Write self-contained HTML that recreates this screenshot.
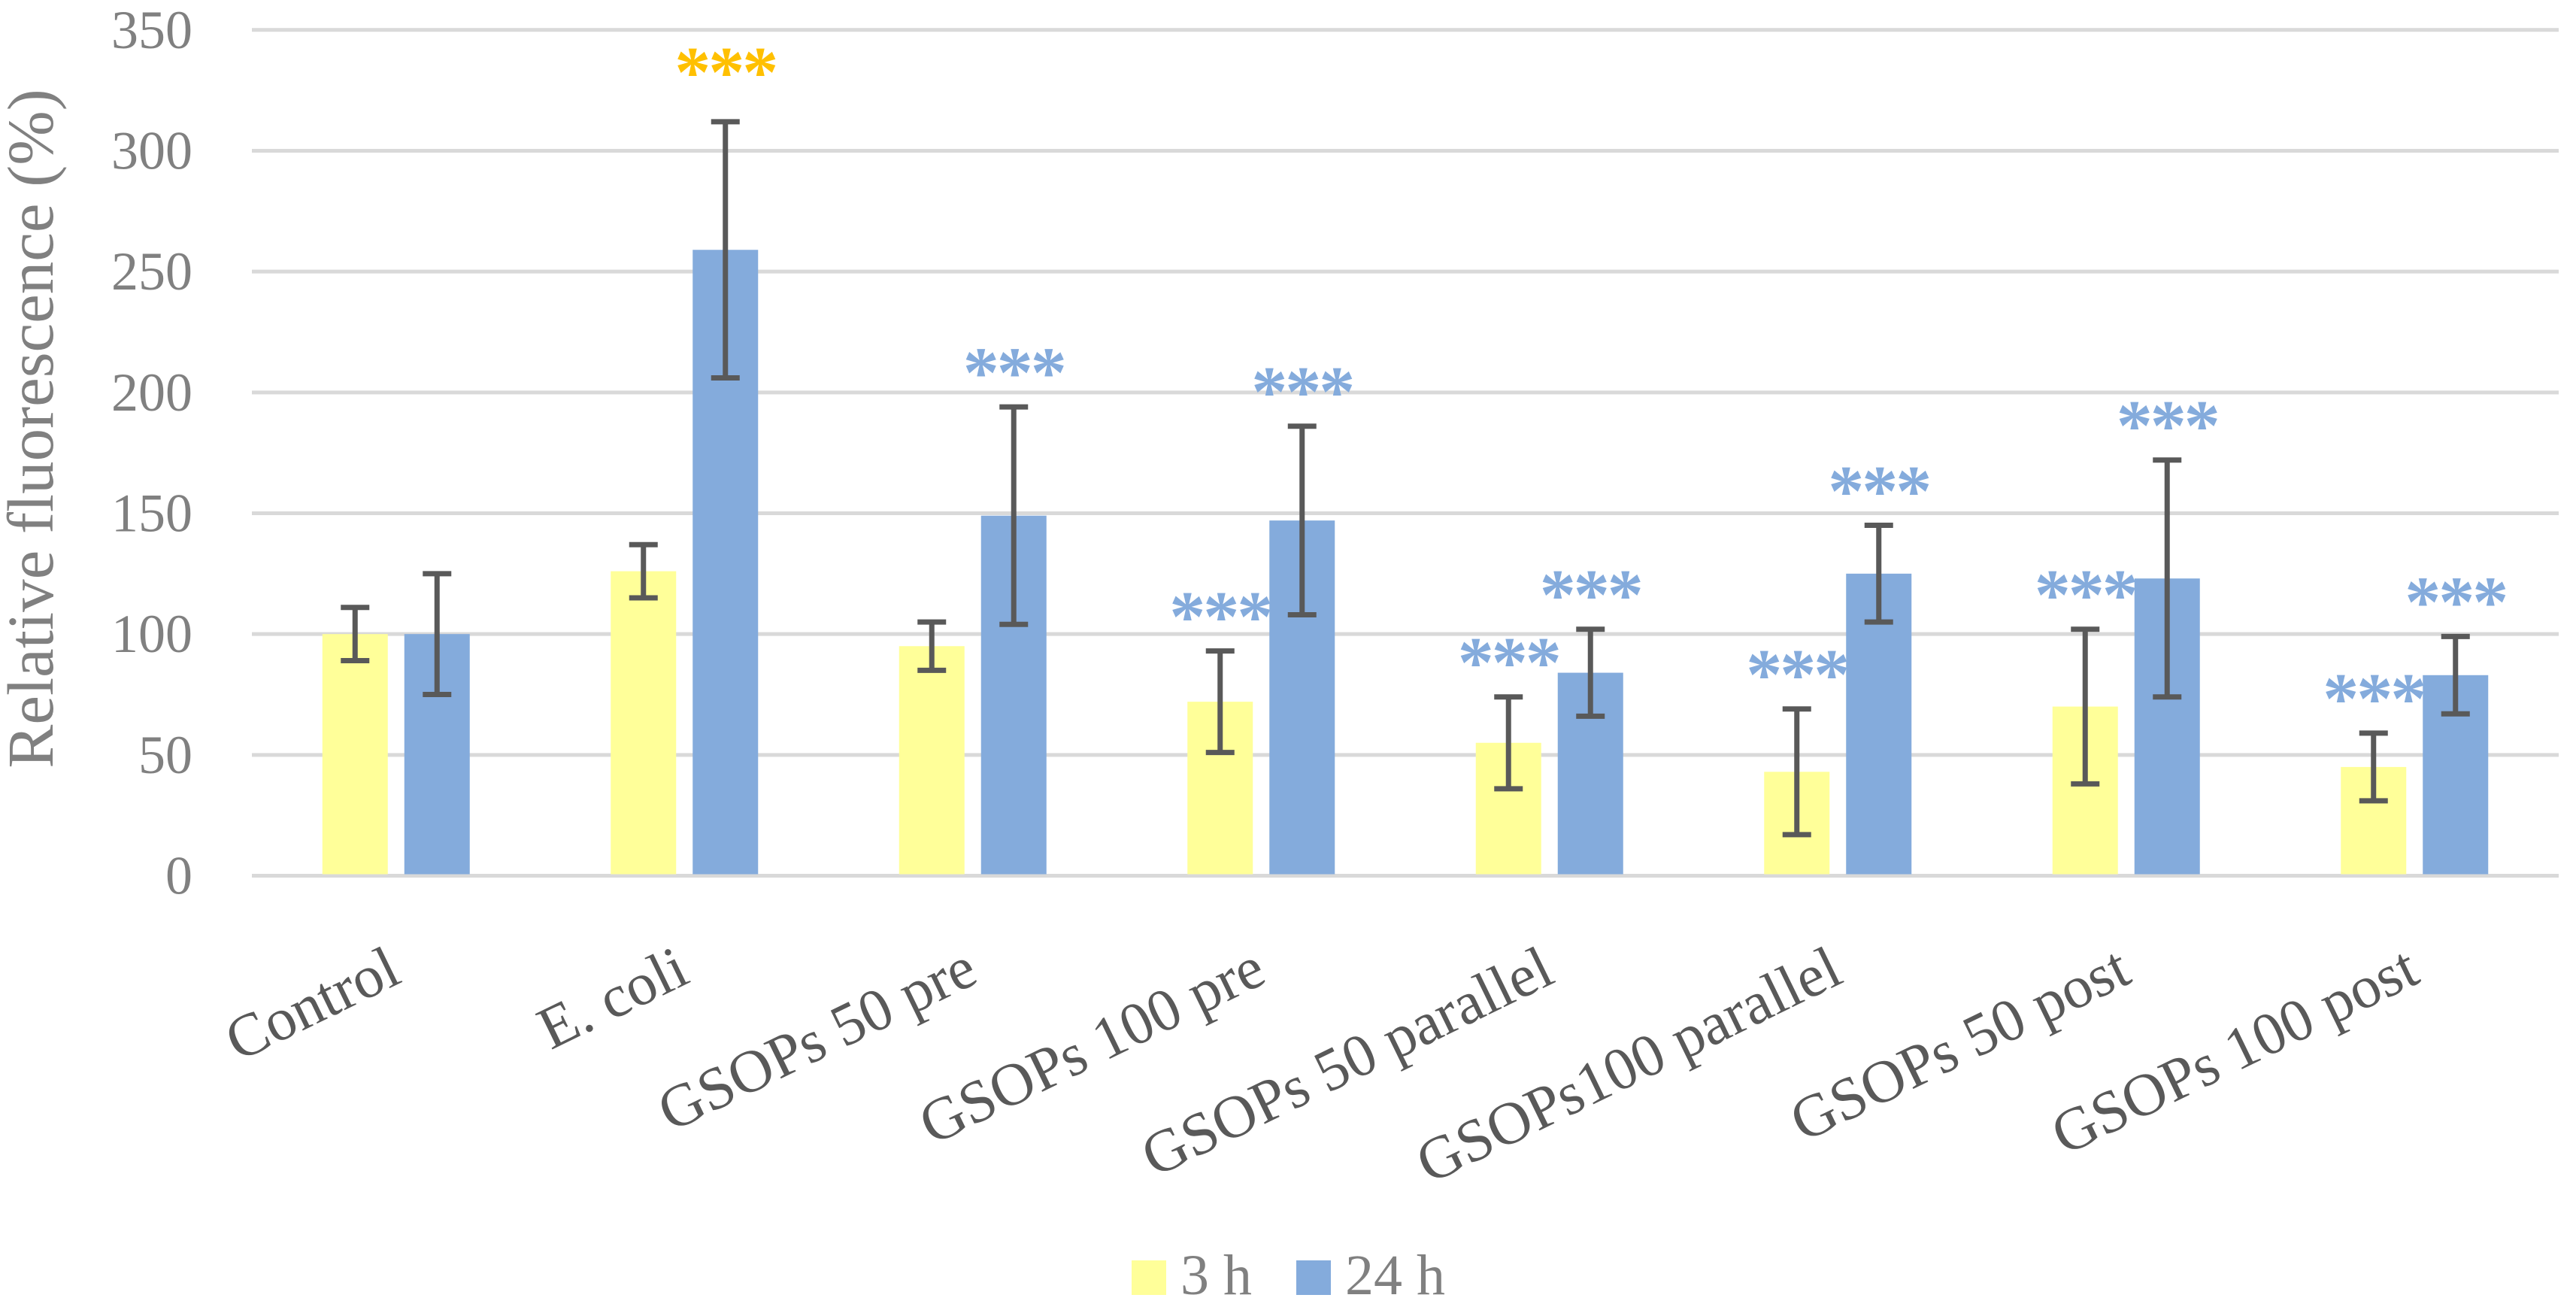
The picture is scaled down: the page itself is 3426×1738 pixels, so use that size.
<!DOCTYPE html>
<html><head><meta charset="utf-8"><style>
html,body{margin:0;padding:0;background:#fff;}
svg{display:block;}
text{font-family:"Liberation Serif",serif;}
</style></head><body>
<svg id="chart" width="3426" height="1738" viewBox="0 0 3426 1738" xmlns="http://www.w3.org/2000/svg">
<g id="grid"></g>
<g id="ylabels"></g>
<text transform="translate(70,570) rotate(-90)" text-anchor="middle" font-size="87" fill="#808080">Relative fluorescence (%)</text>
<g id="bars"></g>
<g id="xlabels"></g>
<g>
<rect x="1505" y="1676" width="46" height="46" fill="#FFFF99"/>
<text x="1570" y="1721" font-size="76" fill="#808080">3 h</text>
<rect x="1724" y="1676" width="46" height="46" fill="#84ABDC"/>
<text x="1789" y="1721" font-size="76" fill="#808080">24 h</text>
</g>
</svg>
<script>
const categories = ["Control","E. coli","GSOPs 50 pre","GSOPs 100 pre","GSOPs 50 parallel","GSOPs100 parallel","GSOPs 50 post","GSOPs 100 post"];
const values3h = [100,126,95,72,55,43,70,45];
const err3h = [11,11,10,21,19,26,32,14];
const values24h = [100,259,149,147,84,125,123,83];
const err24h = [25,53,45,39,18,20,49,16];
const stars3h = ["","","","***","***","***","***","***"];
const stars24h = ["","***","***","***","***","***","***","***"];
const yTicks = [0,50,100,150,200,250,300,350];

const NS = "http://www.w3.org/2000/svg";
const X0 = 335, X1 = 3403, Y0 = 1164.5, YTOP = 39.8, YMAX = 350;
const band = (X1 - X0) / categories.length;
function y(v){ return Y0 - (v / YMAX) * (Y0 - YTOP); }
function cx(i){ return X0 + band * (i + 0.5); }
function mk(tag, attrs, parent){ const e = document.createElementNS(NS, tag); for (const k in attrs) e.setAttribute(k, attrs[k]); parent.appendChild(e); return e; }

const grid = document.getElementById('grid');
const yl = document.getElementById('ylabels');
yTicks.forEach(t => {
  const l = mk('line', {x1:X0, x2:X1, y1:y(t), y2:y(t), stroke:'#D9D9D9', 'stroke-width':5}, grid);
  
  
  const tx = mk('text', {x:256, y:y(t)+24, 'text-anchor':'end', 'font-size':72, fill:'#808080'}, yl);
  tx.textContent = t;
  
  
});

const bars = document.getElementById('bars');
const BW = 87, GAP = 22, FS = 96;
function drawBar(i, v, e, col, off, stars, starCol, gapAbove){
  const x = cx(i) + off;
  const r = mk('rect', {x:x - BW/2, y:y(v), width:BW, height:Y0 - y(v) - 2, fill:col}, bars);
  
  
  const g = mk('g', {stroke:'#595959', 'stroke-width':7}, bars);
  
  
  mk('line', {x1:x, x2:x, y1:y(v+e), y2:y(v-e)}, g);
  mk('line', {x1:x-19, x2:x+19, y1:y(v+e), y2:y(v+e)}, g);
  mk('line', {x1:x-19, x2:x+19, y1:y(v-e), y2:y(v-e)}, g);
  if (stars){
    const s = mk('text', {x:x, y:y(v+e) - gapAbove + 0.55*FS, 'text-anchor':'middle', 'font-size':FS, 'font-weight':'bold', fill:starCol, 'letter-spacing':'-3'}, bars);
    s.textContent = stars;
    
    
  }
}
categories.forEach((c, i) => {
  drawBar(i, values3h[i], err3h[i], '#FFFF99', -(BW/2 + GAP/2), stars3h[i], '#84ABDC', 66);
  drawBar(i, values24h[i], err24h[i], '#84ABDC', (BW/2 + GAP/2), stars24h[i], i === 1 ? '#FFC000' : '#84ABDC', i === 1 ? 86 : 66);
  const t = mk('text', {transform:`translate(${cx(i)+10},1305) rotate(-26)`, 'text-anchor':'end', 'font-size':80, fill:'#595959'}, document.getElementById('xlabels'));
  t.textContent = c;
  
  
});
</script>
</body></html>
